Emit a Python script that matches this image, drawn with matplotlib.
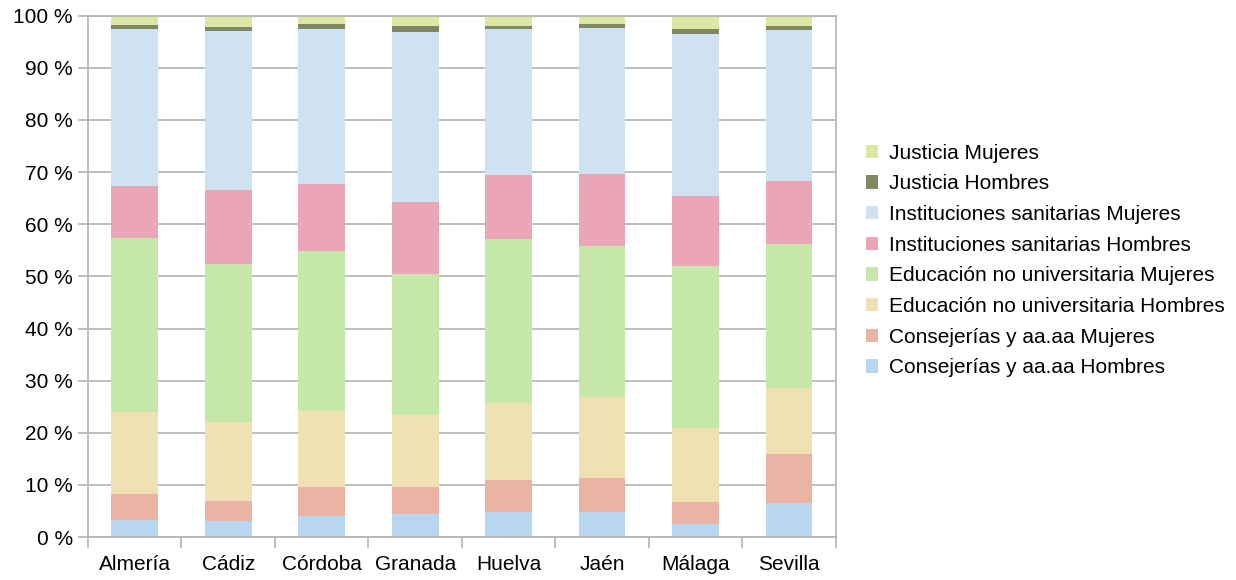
import numpy as np
import matplotlib.pyplot as plt
from matplotlib.ticker import FixedLocator

plt.rcParams['font.family'] = ['Liberation Sans', 'DejaVu Sans']

provincias = ["Almería", "Cádiz", "Córdoba", "Granada", "Huelva", "Jaén", "Málaga", "Sevilla"]

# porcentajes por provincia (suman ~100)
consej_h = [3.2, 3.0, 4.0, 4.35, 4.75, 4.9, 2.6, 6.5]
consej_m = [5.0, 3.85, 5.6, 5.35, 6.15, 6.4, 4.1, 9.4]
educ_h = [15.7, 15.15, 14.5, 13.8, 14.8, 15.5, 14.3, 12.6]
educ_m = [33.4, 30.3, 30.7, 26.9, 31.4, 29.1, 30.9, 27.8]
sanit_h = [10.0, 14.2, 12.9, 13.8, 12.3, 13.7, 13.6, 11.9]
sanit_m = [30.1, 30.5, 29.7, 32.6, 28.0, 28.0, 30.9, 29.0]
just_h = [0.8, 0.8, 1.0, 1.2, 0.6, 0.8, 1.0, 0.8]
just_m = [1.8, 2.2, 1.6, 2.0, 2.0, 1.6, 2.6, 2.0]

series = [
    ("Consejerías y aa.aa Hombres", consej_h, "#b9d6f0"),
    ("Consejerías y aa.aa Mujeres", consej_m, "#eab3a3"),
    ("Educación no universitaria Hombres", educ_h, "#eee1b3"),
    ("Educación no universitaria Mujeres", educ_m, "#c6e7aa"),
    ("Instituciones sanitarias Hombres", sanit_h, "#eaa6b6"),
    ("Instituciones sanitarias Mujeres", sanit_m, "#cfe2f2"),
    ("Justicia Hombres", just_h, "#7f8763"),
    ("Justicia Mujeres", just_m, "#dde6a5"),
]

fig = plt.figure(figsize=(12.36, 5.8), dpi=100)
ax = fig.add_axes([0.0712, 0.074, 0.605, 0.899])

x = np.arange(len(provincias))
# normalizar a 100 %
tot = np.zeros(len(provincias))
for _, vals, _ in series:
    tot += np.array(vals)

bottom = np.zeros(len(provincias))
for name, vals, col in series:
    v = np.array(vals) / tot * 100
    ax.bar(x, v, 0.5, bottom=bottom, color=col, label=name, zorder=2)
    bottom += v

ax.set_xlim(-0.5, len(provincias) - 0.5)
ax.set_ylim(0, 100)
ax.set_yticks(range(0, 101, 10))
ax.set_yticklabels([f"{t} %" for t in range(0, 101, 10)])
ax.yaxis.grid(True, color="#b3b3b3", linewidth=1.2, zorder=0)
ax.set_axisbelow(True)

ax.set_xticks(x)
ax.set_xticklabels(provincias)
ax.xaxis.set_minor_locator(FixedLocator(np.arange(-0.5, len(provincias), 1)))
ax.tick_params(axis="x", which="major", length=0, pad=13)
ax.tick_params(axis="x", which="minor", length=8, width=1.2)
ax.tick_params(axis="y", length=7, width=1.2, pad=4)
ax.tick_params(labelsize=15, colors="#000000")
ax.tick_params(axis="both", which="both", color="#b3b3b3")

for s in ax.spines.values():
    s.set_color("#b3b3b3")
    s.set_linewidth(1.2)

h, l = ax.get_legend_handles_labels()
fig.legend(h[::-1], l[::-1], loc="center left", bbox_to_anchor=(0.692, 0.551),
           frameon=False, fontsize=15, handlelength=0.6, handleheight=0.6,
           handletextpad=0.5, labelspacing=0.56, borderpad=0)

fig.savefig("out.png", dpi=100)
